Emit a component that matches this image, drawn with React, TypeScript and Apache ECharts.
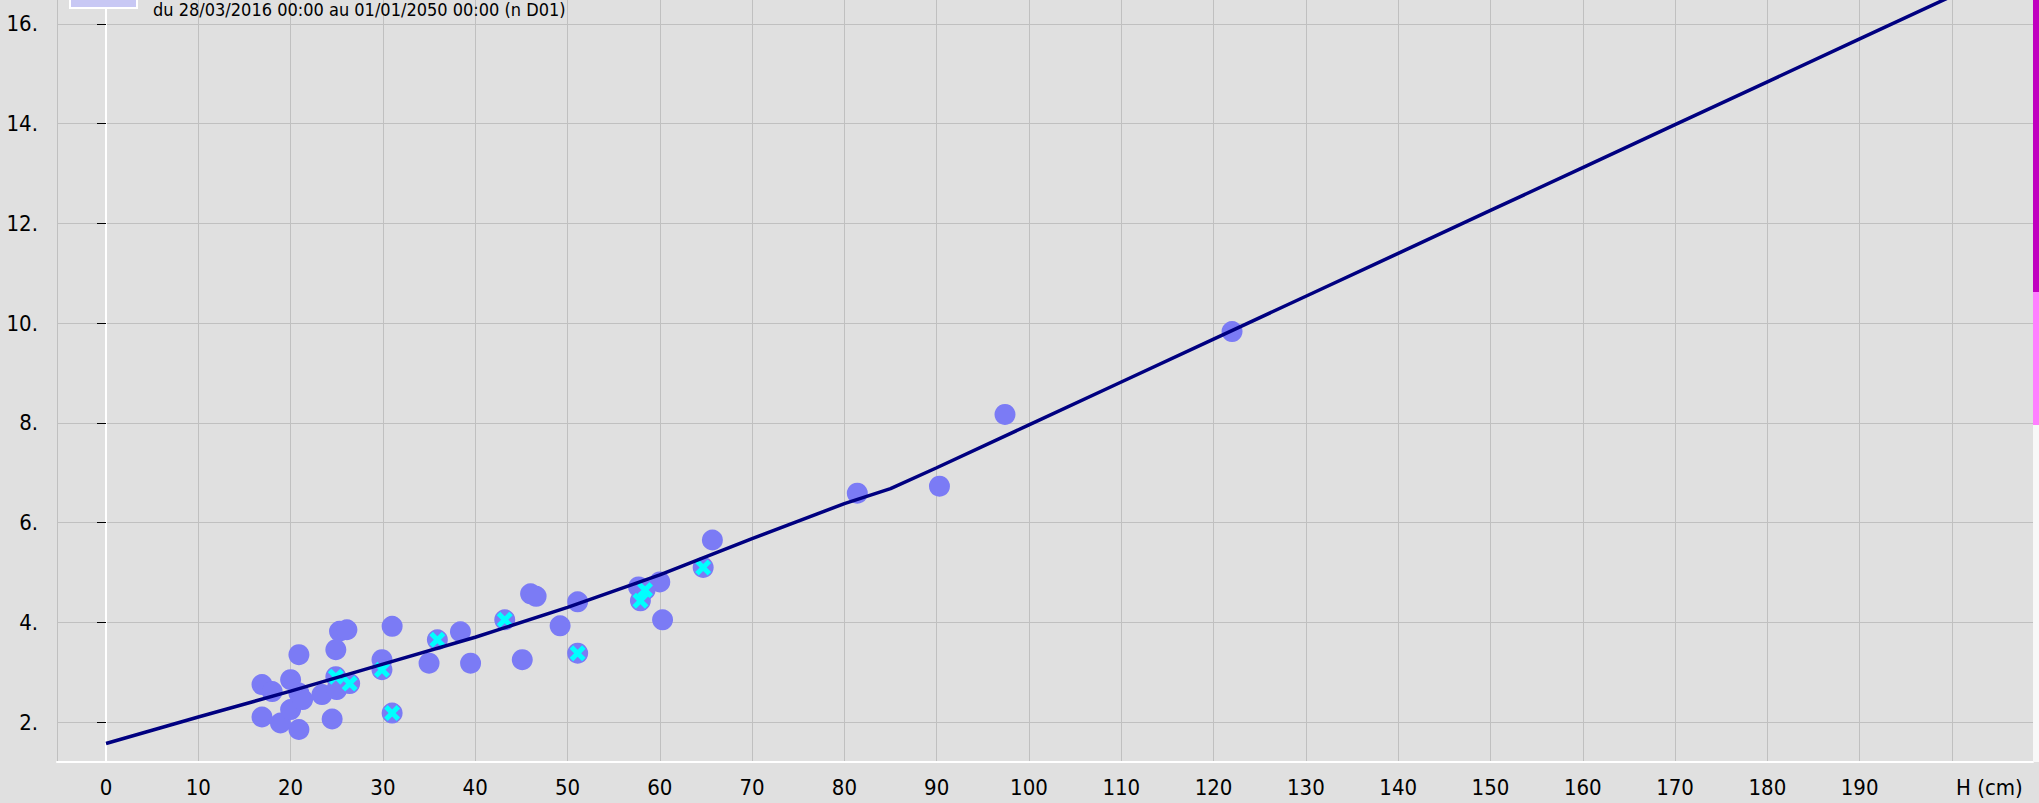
import React, { useEffect, useRef } from "react";
import * as echarts from "echarts";

// ---- data ----
const xTickLabels = [0, 10, 20, 30, 40, 50, 60, 70, 80, 90, 100, 110, 120, 130, 140, 150, 160, 170, 180, 190];
const xAxisTitle = "H (cm)";
const yTickLabels = [2, 4, 6, 8, 10, 12, 14, 16];
const legendText = "du 28/03/2016 00:00 au 01/01/2050 00:00 (n D01)";

// rating curve (H cm -> Q)
const curveH = [0, 10, 20, 30, 40, 50, 60, 70, 80, 85, 90, 100, 110, 120, 130, 140, 150, 160, 170, 180, 190, 200];
const curveQ = [1.57, 2.1, 2.62, 3.16, 3.7, 4.3, 4.95, 5.68, 6.38, 6.68, 7.1, 7.96, 8.82, 9.68, 10.54, 11.4, 12.26, 13.12, 13.98, 14.84, 15.7, 16.56];

// gaugings (plain)
const gaugeH = [16.9, 18.0, 16.9, 18.9, 20.0, 20.9, 20.9, 20.9, 20.0, 21.3, 23.4, 24.5, 24.9, 25.3, 26.1, 25.0, 29.9, 31.0, 35.0, 38.4, 39.5, 45.1, 46.0, 46.6, 49.2, 51.1, 57.7, 60.0, 60.3, 65.7, 81.4, 90.3, 97.4, 122.0];
const gaugeQ = [2.75, 2.61, 2.1, 1.98, 2.85, 3.35, 2.58, 1.85, 2.25, 2.45, 2.55, 2.06, 3.45, 3.82, 3.85, 2.65, 3.25, 3.92, 3.18, 3.81, 3.18, 3.25, 4.57, 4.52, 3.93, 4.41, 4.71, 4.81, 4.05, 5.65, 6.59, 6.73, 8.17, 9.83];

// gaugings marked with a cross
const crossH = [24.9, 26.4, 29.9, 31.0, 35.9, 43.2, 51.1, 57.9, 58.4, 64.7];
const crossQ = [2.91, 2.77, 3.05, 2.18, 3.65, 4.05, 3.38, 4.43, 4.65, 5.1];

const FONT = "'Liberation Sans Narrow', 'Arial Narrow', 'DejaVu Sans Condensed', sans-serif";
const X_SHAPE = "path://M0,2.2L2.2,0L5,2.8L7.8,0L10,2.2L7.2,5L10,7.8L7.8,10L5,7.2L2.2,10L0,7.8L2.8,5Z";

export default function App() {
  const ref = useRef<HTMLDivElement>(null);

  useEffect(() => {
    document.body.style.margin = "0";
    if (!ref.current) return;
    const chart = echarts.init(ref.current, null, { renderer: "svg" });

    const curve = curveH.map((h, i) => [h, curveQ[i]]);
    const gauges = gaugeH.map((h, i) => [h, gaugeQ[i]]);
    const crosses = crossH.map((h, i) => [h, crossQ[i]]);

    chart.setOption({
      animation: false,
      backgroundColor: "#e0e0e0",
      grid: { left: 57, right: 6, top: 0, bottom: 41, containLabel: false },
      xAxis: {
        type: "value",
        min: -5.31,
        max: 208.78,
        splitNumber: 21,
        minInterval: 10,
        maxInterval: 10,
        axisLine: { show: true, lineStyle: { color: "#ffffff", width: 2 } },
        axisTick: { show: false },
        axisLabel: {
          customValues: xTickLabels,
          color: "#000000",
          fontSize: 22,
          fontFamily: FONT,
          margin: 14,
        },
        splitLine: { show: true, lineStyle: { color: "#c0c0c0", width: 1 } },
      },
      yAxis: {
        type: "value",
        min: 1.198,
        max: 16.481,
        splitNumber: 8,
        minInterval: 2,
        maxInterval: 2,
        axisLine: { show: true, lineStyle: { color: "#ffffff", width: 2 } },
        axisTick: {
          show: true,
          inside: false,
          length: 9,
          customValues: yTickLabels,
          lineStyle: { color: "#000000", width: 1 },
        },
        axisLabel: {
          customValues: yTickLabels,
          formatter: (v: number) => `${v}.`,
          color: "#000000",
          fontSize: 22,
          fontFamily: FONT,
          margin: 19,
        },
        splitLine: { show: true, lineStyle: { color: "#c0c0c0", width: 1 } },
      },
      series: [
        {
          type: "scatter",
          data: gauges.concat(crosses),
          symbol: "circle",
          symbolSize: 21,
          itemStyle: { color: "#7b7bf5", opacity: 1 },
          z: 2,
        },
        {
          type: "scatter",
          data: crosses,
          symbol: X_SHAPE,
          symbolSize: 16,
          itemStyle: { color: "#00ffff", opacity: 1 },
          z: 3,
        },
        {
          type: "line",
          data: curve,
          showSymbol: false,
          symbol: "none",
          lineStyle: { color: "#000080", width: 3.5 },
          z: 4,
        },
      ],
      graphic: [
        { type: "rect", shape: { x: 2033, y: 0, width: 6, height: 292 }, style: { fill: "#c000c0" }, z: 10 },
        { type: "rect", shape: { x: 2033, y: 292, width: 6, height: 133 }, style: { fill: "#ff80ff" }, z: 10 },
        { type: "rect", shape: { x: 2033, y: 425, width: 6, height: 337 }, style: { fill: "#f8f8f8" }, z: 10 },
        {
          type: "rect",
          shape: { x: 70, y: -10, width: 67, height: 18 },
          style: { fill: "#c8c8f4", stroke: "#ffffff", lineWidth: 2 },
          z: 10,
        },
        {
          type: "text",
          x: 153,
          y: 0,
          style: { text: legendText, fill: "#000000", fontSize: 18, fontFamily: FONT, verticalAlign: "top", align: "left" },
          z: 10,
        },
        {
          type: "text",
          x: 1956,
          y: 787,
          style: { text: xAxisTitle, fill: "#000000", fontSize: 22, fontFamily: FONT, verticalAlign: "middle", align: "left" },
          z: 10,
        },
      ],
    });

    return () => chart.dispose();
  }, []);

  return <div ref={ref} style={{ width: 2039, height: 803 }} />;
}
